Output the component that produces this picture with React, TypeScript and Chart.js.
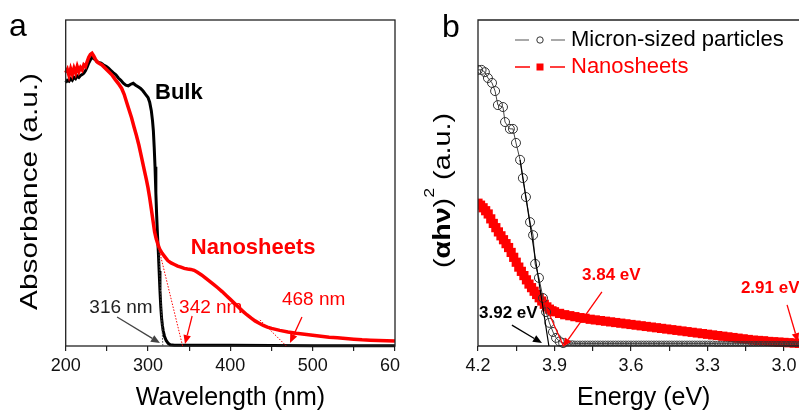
import React, { useEffect, useRef } from 'react';
import { Chart, registerables } from 'chart.js';

Chart.register(...registerables);

const FONT = "'Liberation Sans', Arial, Helvetica, sans-serif";
const RED = 'rgb(255,0,0)';

// ---------- Panel a : absorbance vs wavelength ----------
const WAVELENGTH_TICKS = [200, 250, 300, 350, 400, 450, 500, 550, 600];

const BULK_NM = [
  200, 202, 204, 206, 208, 210, 212, 214, 216, 218, 220, 222, 224, 226, 228, 230, 232, 234, 236, 238,
  240, 243, 246, 249, 252, 255, 258, 261, 264, 267, 270, 273, 276, 279, 282, 285, 288, 291, 294, 297,
  300, 302, 304, 305.5, 306.5, 307.5, 308.5, 309.5, 310.5, 311.5, 312.5, 313.5, 314.5, 315.5, 316.5,
  317.5, 318.5, 320, 322, 324.5, 327, 332, 350, 400, 500, 600,
];
const BULK_ABS = [
  0.808, 0.815, 0.812, 0.82, 0.815, 0.824, 0.82, 0.828, 0.824, 0.83, 0.833, 0.837, 0.844, 0.855, 0.868, 0.878, 0.885, 0.882, 0.878, 0.872,
  0.87, 0.868, 0.862, 0.858, 0.852, 0.845, 0.838, 0.832, 0.822, 0.815, 0.806, 0.8, 0.798, 0.803, 0.806, 0.8, 0.795, 0.79, 0.782, 0.772,
  0.762, 0.748, 0.722, 0.69, 0.66, 0.61, 0.55, 0.47, 0.4, 0.34, 0.29, 0.23, 0.17, 0.12, 0.085,
  0.062, 0.046, 0.03, 0.017, 0.008, 0.004, 0.002, 0.002, 0.002, 0.001, 0.001,
];

const NANO_NM = [
  200, 202, 204, 206, 208, 210, 212, 214, 216, 218, 220, 222, 224, 226, 228, 230, 232, 234, 236, 238,
  240, 244, 248, 252, 256, 260, 264, 268, 271, 274, 277, 280, 283, 286, 289, 292, 295, 298, 300, 302,
  304, 306, 308, 310, 312, 314, 317, 320, 324, 328, 332, 336, 340, 344, 348, 352, 356, 360, 365, 370,
  375, 380, 385, 390, 395, 400, 405, 410, 415, 420, 425, 430, 435, 440, 445, 450, 460, 470, 480, 490,
  500, 510, 520, 530, 540, 550, 560, 570, 580, 590, 600,
];
const NANO_ABS = [
  0.838, 0.848, 0.83, 0.85, 0.834, 0.852, 0.838, 0.857, 0.842, 0.854, 0.847, 0.862, 0.857, 0.872, 0.886, 0.894, 0.898, 0.89, 0.88, 0.872,
  0.868, 0.862, 0.852, 0.842, 0.832, 0.818, 0.805, 0.79, 0.772, 0.748, 0.724, 0.7, 0.672, 0.645, 0.615, 0.58, 0.545, 0.51, 0.485, 0.455,
  0.42, 0.385, 0.35, 0.328, 0.312, 0.298, 0.285, 0.275, 0.262, 0.255, 0.25, 0.245, 0.242, 0.238, 0.236, 0.235, 0.232, 0.226, 0.218, 0.208,
  0.198, 0.188, 0.178, 0.167, 0.155, 0.143, 0.131, 0.119, 0.107, 0.096, 0.086, 0.077, 0.07, 0.063, 0.058, 0.054, 0.048, 0.043, 0.039, 0.036,
  0.033, 0.03, 0.027, 0.025, 0.023, 0.021, 0.019, 0.018, 0.017, 0.016, 0.015,
];

// ---------- Panel b : Tauc plot ----------
const ENERGY_TICKS = [4.2, 4.05, 3.9, 3.75, 3.6, 3.45, 3.3, 3.15, 3.0];

const MICRON_E = [
  4.2, 4.186, 4.173, 4.161, 4.145, 4.133, 4.122, 4.102, 4.094, 4.075, 4.063, 4.051, 4.035, 4.024, 4.012, 3.996,
  3.984, 3.976, 3.961, 3.945, 3.933, 3.92, 3.906, 3.894, 3.88, 3.866,
  3.85, 3.84, 3.83, 3.82, 3.81, 3.8, 3.79, 3.78, 3.77, 3.76, 3.75, 3.74, 3.73, 3.72, 3.71, 3.7, 3.69, 3.68,
  3.67, 3.66, 3.65, 3.64, 3.63, 3.62, 3.61, 3.6, 3.59, 3.58, 3.57, 3.56, 3.55, 3.54, 3.53, 3.52, 3.51, 3.5,
  3.49, 3.48, 3.47, 3.46, 3.45, 3.44, 3.43, 3.42, 3.41, 3.4, 3.39, 3.38, 3.37, 3.36, 3.35, 3.34, 3.33, 3.32,
  3.31, 3.3, 3.29, 3.28, 3.27, 3.26, 3.25, 3.24, 3.23, 3.22, 3.21, 3.2, 3.19, 3.18, 3.17, 3.16, 3.15, 3.14,
  3.13, 3.12, 3.11, 3.1, 3.09, 3.08, 3.07, 3.06, 3.05, 3.04, 3.03, 3.02, 3.01, 3.0, 2.99, 2.98, 2.97, 2.96,
  2.95, 2.94, 2.93, 2.92,
];
const MICRON_V = [
  0.847, 0.847, 0.84, 0.822, 0.807, 0.782, 0.739, 0.733, 0.687, 0.666, 0.666, 0.623, 0.571, 0.515, 0.457, 0.38,
  0.34, 0.252, 0.209, 0.147, 0.104, 0.071, 0.043, 0.025, 0.014, 0.009,
  0.009, 0.009, 0.009, 0.008, 0.008, 0.008, 0.008, 0.008, 0.008, 0.008, 0.008, 0.008, 0.008, 0.008, 0.008, 0.008, 0.008, 0.008,
  0.008, 0.008, 0.008, 0.008, 0.008, 0.008, 0.008, 0.008, 0.008, 0.008, 0.008, 0.008, 0.008, 0.008, 0.008, 0.008, 0.008, 0.008,
  0.008, 0.008, 0.008, 0.008, 0.008, 0.008, 0.008, 0.008, 0.008, 0.008, 0.008, 0.008, 0.008, 0.008, 0.008, 0.008, 0.008, 0.008,
  0.008, 0.008, 0.008, 0.008, 0.007, 0.007, 0.007, 0.007, 0.007, 0.007, 0.007, 0.007, 0.007, 0.007, 0.007, 0.007, 0.007, 0.007,
  0.007, 0.007, 0.007, 0.007, 0.007, 0.007, 0.007, 0.007, 0.007, 0.007, 0.007, 0.007, 0.007, 0.007, 0.007, 0.007, 0.007, 0.007,
  0.007, 0.007, 0.007, 0.007,
];

const SHEET_E = [
  4.2, 4.19, 4.18, 4.17, 4.16, 4.15, 4.14, 4.13, 4.12, 4.11, 4.1, 4.09, 4.08, 4.07, 4.06, 4.05, 4.04, 4.03, 4.02, 4.01,
  4.0, 3.99, 3.98, 3.97, 3.96, 3.95, 3.94, 3.93, 3.92, 3.91, 3.9, 3.88, 3.86, 3.84, 3.82,
  3.8, 3.78, 3.76, 3.74, 3.72, 3.7, 3.68, 3.66, 3.64, 3.62, 3.6, 3.58, 3.56, 3.54, 3.52, 3.5, 3.48, 3.46, 3.44, 3.42,
  3.4, 3.38, 3.36, 3.34, 3.32, 3.3, 3.28, 3.26, 3.24, 3.22, 3.2, 3.18, 3.16, 3.14, 3.12, 3.1, 3.08, 3.06, 3.04, 3.02,
  3.0, 2.98, 2.96, 2.94, 2.92,
];
const SHEET_V = [
  0.438, 0.432, 0.424, 0.415, 0.405, 0.39, 0.376, 0.363, 0.35, 0.338, 0.326, 0.314, 0.302, 0.287, 0.272, 0.257, 0.242, 0.229, 0.216, 0.203,
  0.19, 0.179, 0.168, 0.158, 0.148, 0.138, 0.128, 0.12, 0.113, 0.108, 0.105, 0.1, 0.096, 0.093, 0.09,
  0.087, 0.085, 0.082, 0.08, 0.078, 0.076, 0.074, 0.072, 0.07, 0.068, 0.066, 0.064, 0.062, 0.06, 0.058, 0.056, 0.054, 0.052, 0.05, 0.048,
  0.046, 0.044, 0.042, 0.04, 0.038, 0.036, 0.034, 0.032, 0.03, 0.028, 0.026, 0.024, 0.022, 0.02, 0.018, 0.017, 0.016, 0.014, 0.013, 0.012,
  0.011, 0.01, 0.009, 0.008, 0.007,
];

// ---------- annotations (data units) ----------
const A_TANGENTS = [
  { from: [313, 0.3], to: [318, 0], color: '#444' },
  { from: [313, 0.3], to: [342, 0], color: RED },
  { from: [436, 0.08], to: [468, 0], color: RED },
];
const A_ARROWS = [
  { from: [262.4, 0.089], to: [314.5, 0.009], color: '#444' },
  { from: [353.6, 0.092], to: [344.9, 0.006], color: RED },
  { from: [487, 0.089], to: [472.4, 0.009], color: RED },
];
const A_LABELS = [
  { text: '316 nm', at: [228.7, 0.117], color: '#222', bold: false, size: 19 },
  { text: '342 nm', at: [337.7, 0.117], color: RED, bold: false, size: 19 },
  { text: '468 nm', at: [462.7, 0.141], color: RED, bold: false, size: 19 },
  { text: 'Bulk', at: [308.5, 0.776], color: '#000', bold: true, size: 22 },
  { text: 'Nanosheets', at: [352, 0.3], color: RED, bold: true, size: 22 },
];
const B_TANGENTS = [
  { from: [4.035, 0.571], to: [3.922, 0], color: '#000' },
  { from: [3.945, 0.141], to: [3.865, 0], color: RED },
];
const B_ARROWS = [
  { from: [4.067, 0.064], to: [3.949, 0.009], color: '#000' },
  { from: [3.714, 0.166], to: [3.867, -0.003], color: RED },
  { from: [2.988, 0.126], to: [2.945, 0.012], color: RED },
];
const B_LABELS = [
  { text: '3.92 eV', at: [4.196, 0.101], color: '#000', bold: true, size: 17 },
  { text: '3.84 eV', at: [3.792, 0.218], color: RED, bold: true, size: 17 },
  { text: '2.91 eV', at: [3.169, 0.178], color: RED, bold: true, size: 17 },
];

function px(chart: any, p: number[]) {
  return [chart.scales.x.getPixelForValue(p[0]), chart.scales.y.getPixelForValue(p[1])];
}

function drawArrow(ctx: CanvasRenderingContext2D, x1: number, y1: number, x2: number, y2: number, color: string) {
  const ang = Math.atan2(y2 - y1, x2 - x1);
  const head = 9;
  const hw = 3.8;
  const bx = x2 - head * Math.cos(ang);
  const by = y2 - head * Math.sin(ang);
  ctx.strokeStyle = color;
  ctx.fillStyle = color;
  ctx.lineWidth = 1.3;
  ctx.beginPath();
  ctx.moveTo(x1, y1);
  ctx.lineTo(bx, by);
  ctx.stroke();
  ctx.beginPath();
  ctx.moveTo(x2, y2);
  ctx.lineTo(bx + hw * Math.sin(ang), by - hw * Math.cos(ang));
  ctx.lineTo(bx - hw * Math.sin(ang), by + hw * Math.cos(ang));
  ctx.closePath();
  ctx.fill();
}

function drawRotatedTitle(
  ctx: CanvasRenderingContext2D,
  parts: { text: string; font: string; dy: number }[],
  baselineX: number,
  cy: number,
  targetLen: number
) {
  ctx.save();
  let w = 0;
  const widths = parts.map((p) => {
    ctx.font = p.font;
    const m = ctx.measureText(p.text).width;
    w += m;
    return m;
  });
  ctx.translate(baselineX, cy);
  ctx.rotate(-Math.PI / 2);
  ctx.scale(targetLen / w, 1);
  ctx.fillStyle = '#000';
  ctx.textAlign = 'left';
  ctx.textBaseline = 'alphabetic';
  let x = -w / 2;
  parts.forEach((p, i) => {
    ctx.font = p.font;
    ctx.fillText(p.text, x, p.dy);
    x += widths[i];
  });
  ctx.restore();
}

function drawAnnotations(ctx: CanvasRenderingContext2D, chart: any, tangents: any[], arrows: any[], labels: any[], dashed: boolean) {
  tangents.forEach((t) => {
    const [x1, y1] = px(chart, t.from);
    const [x2, y2] = px(chart, t.to);
    ctx.save();
    ctx.strokeStyle = t.color;
    ctx.lineWidth = dashed ? 1 : 1.2;
    if (dashed) ctx.setLineDash([1.5, 1.5]);
    ctx.beginPath();
    ctx.moveTo(x1, y1);
    ctx.lineTo(x2, y2);
    ctx.stroke();
    ctx.restore();
  });
  arrows.forEach((a) => {
    const [x1, y1] = px(chart, a.from);
    const [x2, y2] = px(chart, a.to);
    drawArrow(ctx, x1, y1, x2, y2, a.color);
  });
  labels.forEach((l) => {
    const [x, y] = px(chart, l.at);
    ctx.font = `${l.bold ? 'bold ' : ''}${l.size}px ${FONT}`;
    ctx.fillStyle = l.color;
    ctx.textAlign = 'left';
    ctx.textBaseline = 'middle';
    ctx.fillText(l.text, x, y);
  });
}

const panelAPlugin = {
  id: 'panelA',
  afterDraw(chart: any) {
    const ctx: CanvasRenderingContext2D = chart.ctx;
    const { left, right, top, bottom } = chart.chartArea;
    ctx.save();
    ctx.strokeStyle = '#222';
    ctx.lineWidth = 1.3;
    ctx.strokeRect(left, top, right - left, bottom - top);
    drawAnnotations(ctx, chart, A_TANGENTS, A_ARROWS, A_LABELS, true);
    ctx.fillStyle = '#000';
    ctx.font = `25px ${FONT}`;
    ctx.textAlign = 'center';
    ctx.textBaseline = 'alphabetic';
    ctx.fillText('Wavelength (nm)', (left + right) / 2, 405);
    drawRotatedTitle(ctx, [{ text: 'Absorbance (a.u.)', font: `24px ${FONT}`, dy: 0 }], 37, 191.5, 237);
    ctx.font = `32px ${FONT}`;
    ctx.textAlign = 'left';
    ctx.fillStyle = '#000';
    ctx.fillText('a', 9, 36);
    ctx.restore();
  },
};

const panelBPlugin = {
  id: 'panelB',
  afterDraw(chart: any) {
    const ctx: CanvasRenderingContext2D = chart.ctx;
    const { left, right, top, bottom } = chart.chartArea;
    const W = chart.width;
    ctx.save();
    ctx.strokeStyle = '#222';
    ctx.lineWidth = 1.3;
    ctx.beginPath();
    ctx.moveTo(W, top);
    ctx.lineTo(left, top);
    ctx.lineTo(left, bottom);
    ctx.lineTo(W, bottom);
    ctx.stroke();
    drawAnnotations(ctx, chart, B_TANGENTS, B_ARROWS, B_LABELS, false);
    // legend
    ctx.lineWidth = 1.2;
    ctx.strokeStyle = '#555';
    ctx.beginPath();
    ctx.moveTo(115, 40);
    ctx.lineTo(129, 40);
    ctx.moveTo(151, 40);
    ctx.lineTo(165, 40);
    ctx.stroke();
    ctx.strokeStyle = '#333';
    ctx.lineWidth = 1;
    ctx.beginPath();
    ctx.arc(140, 40, 3.2, 0, Math.PI * 2);
    ctx.stroke();
    ctx.strokeStyle = RED;
    ctx.lineWidth = 1.3;
    ctx.beginPath();
    ctx.moveTo(115, 67);
    ctx.lineTo(130, 67);
    ctx.moveTo(150, 67);
    ctx.lineTo(165, 67);
    ctx.stroke();
    ctx.fillStyle = RED;
    ctx.fillRect(136.5, 63.5, 7, 7);
    ctx.font = `22px ${FONT}`;
    ctx.textAlign = 'left';
    ctx.textBaseline = 'middle';
    ctx.fillStyle = '#000';
    ctx.fillText('Micron-sized particles', 171, 40);
    ctx.fillStyle = RED;
    ctx.fillText('Nanosheets', 171, 67);
    ctx.fillStyle = '#000';
    ctx.font = `25px ${FONT}`;
    ctx.textAlign = 'center';
    ctx.textBaseline = 'alphabetic';
    ctx.fillText('Energy (eV)', (left + right) / 2, 405);
    drawRotatedTitle(
      ctx,
      [
        { text: '(', font: `24px ${FONT}`, dy: 0 },
        { text: 'αhν', font: `bold 24px ${FONT}`, dy: 0 },
        { text: ')', font: `24px ${FONT}`, dy: 0 },
        { text: '2', font: `15px ${FONT}`, dy: -16 },
        { text: ' (a.u.)', font: `24px ${FONT}`, dy: 0 },
      ],
      50,
      190.5,
      155
    );
    ctx.font = `32px ${FONT}`;
    ctx.textAlign = 'left';
    ctx.fillStyle = '#000';
    ctx.fillText('b', 42, 37);
    ctx.restore();
  },
};

function xScale(min: number, max: number, ticks: number[], label: (v: number) => string, reverse: boolean) {
  return {
    type: 'linear' as const,
    min,
    max,
    reverse,
    afterBuildTicks: (s: any) => {
      s.ticks = ticks.map((v) => ({ value: v }));
    },
    afterFit: (s: any) => {
      s.height = 66;
      s.paddingLeft = 0;
      s.paddingRight = 0;
    },
    ticks: {
      callback: (v: any) => label(Number(v)),
      font: { family: FONT, size: 18 },
      color: '#111',
      padding: 4,
      maxRotation: 0,
      autoSkip: false,
    },
    grid: { display: true, drawOnChartArea: false, drawTicks: true, tickLength: 5, color: '#222', lineWidth: 1.2 },
    border: { display: false },
  };
}

export default function App() {
  const refA = useRef<HTMLCanvasElement>(null);
  const refB = useRef<HTMLCanvasElement>(null);

  useEffect(() => {
    const chartA = new Chart(refA.current as HTMLCanvasElement, {
      type: 'line',
      data: {
        datasets: [
          {
            data: NANO_NM.map((x, i) => ({ x, y: NANO_ABS[i] })),
            borderColor: RED,
            borderWidth: 3.5,
            pointRadius: 0,
            clip: false as any,
          },
          {
            data: BULK_NM.map((x, i) => ({ x, y: BULK_ABS[i] })),
            borderColor: '#000',
            borderWidth: 3,
            pointRadius: 0,
            clip: false as any,
          },
        ],
      },
      options: {
        responsive: false,
        animation: false,
        devicePixelRatio: 1,
        layout: { padding: { left: 65.7, right: 5, top: 20, bottom: 0 } },
        plugins: { legend: { display: false }, tooltip: { enabled: false } },
        scales: {
          x: xScale(200, 600, WAVELENGTH_TICKS, (v) => (v % 100 === 0 ? String(v) : ''), false) as any,
          y: { type: 'linear', min: 0, max: 1, display: false },
        },
      },
      plugins: [panelAPlugin],
    });

    const chartB = new Chart(refB.current as HTMLCanvasElement, {
      type: 'line',
      data: {
        datasets: [
          {
            data: MICRON_E.map((x, i) => ({ x, y: MICRON_V[i] })),
            borderColor: '#444',
            borderWidth: 1,
            pointStyle: 'circle',
            pointRadius: (c: any) => (c.raw && c.raw.x < 3.855 ? 2.4 : 4.5),
            pointBorderWidth: (c: any) => (c.raw && c.raw.x < 3.855 ? 0.8 : 1),
            pointBorderColor: '#333',
            pointBackgroundColor: 'rgba(255,255,255,0)',
            clip: { left: 0, top: false, right: false, bottom: 4 } as any,
          },
          {
            data: SHEET_E.map((x, i) => ({ x, y: SHEET_V[i] })),
            borderColor: RED,
            borderWidth: 2,
            pointStyle: 'rect',
            pointRadius: 6.5,
            pointBorderWidth: 0,
            pointBackgroundColor: RED,
            clip: { left: 0, top: false, right: false, bottom: 3 } as any,
          },
        ],
      },
      options: {
        responsive: false,
        animation: false,
        devicePixelRatio: 1,
        layout: { padding: { left: 78, right: 30.5, top: 20, bottom: 0 } },
        plugins: { legend: { display: false }, tooltip: { enabled: false } },
        scales: {
          x: xScale(
            2.9,
            4.2,
            ENERGY_TICKS,
            (v) => (Math.round(v * 100) % 30 === 0 ? v.toFixed(1) : ''),
            true
          ) as any,
          y: { type: 'linear', min: 0, max: 1, display: false },
        },
      },
      plugins: [panelBPlugin],
    });

    return () => {
      chartA.destroy();
      chartB.destroy();
    };
  }, []);

  return (
    <div
      style={{
        position: 'fixed',
        left: 0,
        top: 0,
        width: 799,
        height: 412,
        overflow: 'hidden',
        background: '#fff',
      }}
    >
      <canvas ref={refA} width={400} height={412} style={{ position: 'absolute', left: 0, top: 0, width: 400, height: 412 }} />
      <canvas ref={refB} width={440} height={412} style={{ position: 'absolute', left: 400, top: 0, width: 440, height: 412 }} />
    </div>
  );
}
